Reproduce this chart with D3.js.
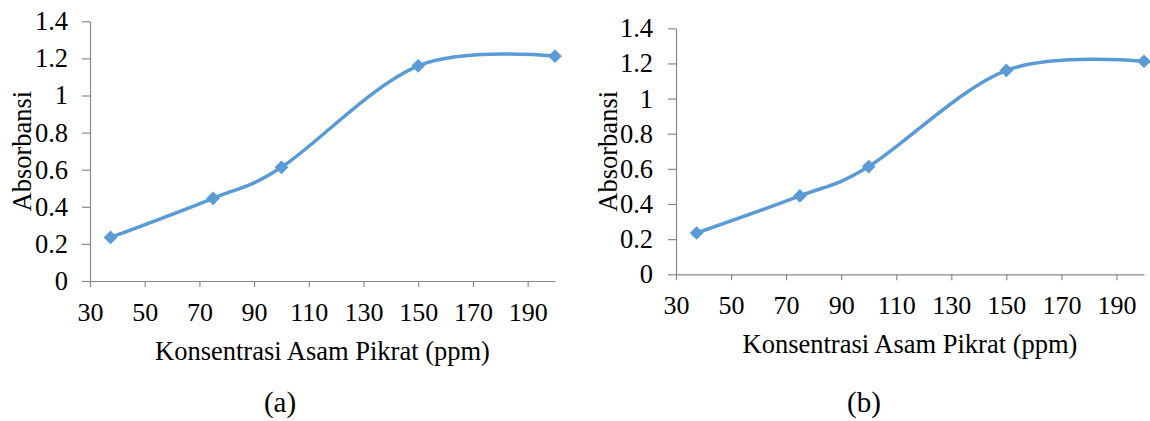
<!DOCTYPE html>
<html>
<head>
<meta charset="utf-8">
<script src="https://cdn.jsdelivr.net/npm/d3@7"></script>
<style>
  body { margin: 0; background: #fff; font-family: 'Liberation Serif', serif; }
  #grafico text { font-family: 'Liberation Serif', serif; fill: #000; }
</style>
</head>
<body>
<div id="grafico"></div>
<script>
// Datos
var konsentrasi = [37.5, 75, 100, 150, 200];
var absorbansiA = [0.235, 0.446, 0.613, 1.16, 1.212];
var absorbansiB = [0.235, 0.446, 0.613, 1.16, 1.212];
var ticksX = [30, 50, 70, 90, 110, 130, 150, 170, 190];
var ticksY = [0, 0.2, 0.4, 0.6, 0.8, 1, 1.2, 1.4];
var etiquetas = ["(a)", "(b)"];

var svg = d3.select("#grafico").append("svg")
    .attr("width", 1150)
    .attr("height", 421)
    .attr("font-family", "Liberation Serif, serif");

/**
 * Dibuja un panel con su curva suavizada
 */
function dibujarPanel(valores, etiqueta, caja) {
    var x = d3.scaleLinear().domain([30, 200]).range([caja.left, caja.right]);
    var y = d3.scaleLinear().domain([0, 1.4]).range([caja.bottom, caja.top]);

    var g = svg.append("g");

    // Eje X
    var ejeX = g.append("g")
        .attr("transform", "translate(0," + caja.bottom + ")")
        .call(d3.axisBottom(x).tickValues(ticksX).tickSize(6).tickSizeOuter(0).tickPadding(caja.padX));
    ejeX.attr("font-family", null).attr("font-size", null);
    ejeX.selectAll("text").attr("font-size", 26);

    // Eje Y
    var ejeY = g.append("g")
        .attr("transform", "translate(" + caja.left + ",0)")
        .call(d3.axisLeft(y).tickValues(ticksY).tickFormat(function (d) { return String(d); })
            .tickSize(8).tickSizeOuter(0).tickPadding(caja.padY));
    ejeY.attr("font-family", null).attr("font-size", null);
    ejeY.selectAll("text").attr("font-size", 26.5);

    g.selectAll(".domain, .tick line").attr("stroke", "#898989").attr("stroke-width", 1.2);

    // Titulos de ejes
    g.append("text")
        .attr("x", (caja.left + caja.right) / 2)
        .attr("y", caja.bottom + 79)
        .attr("text-anchor", "middle")
        .attr("font-size", 26.5)
        .text("Konsentrasi Asam Pikrat (ppm)");

    g.append("text")
        .attr("transform", "translate(" + (caja.left - 59) + "," + ((caja.top + caja.bottom) / 2) + ") rotate(-90)")
        .attr("text-anchor", "middle")
        .attr("font-size", 26.5)
        .text("Absorbansi");

    // Etiqueta del panel
    g.append("text")
        .attr("x", caja.labelX)
        .attr("y", 412)
        .attr("text-anchor", "middle")
        .attr("font-size", 29)
        .text(etiqueta);

    var puntos = konsentrasi.map(function (k, i) { return [k, valores[i]]; });

    var linea = d3.line()
        .x(function (d) { return x(d[0]); })
        .y(function (d) { return y(d[1]); })
        .curve(d3.curveCardinal.tension(0));

    g.append("path")
        .datum(puntos)
        .attr("d", linea)
        .attr("fill", "none")
        .attr("stroke", "#5b9bd5")
        .attr("stroke-width", 3.5);

    g.selectAll(".marca")
        .data(puntos)
        .enter().append("path")
        .attr("class", "marca")
        .attr("d", d3.symbol().type(d3.symbolDiamond2).size(120))
        .attr("transform", function (d) { return "translate(" + x(d[0]) + "," + y(d[1]) + ")"; })
        .attr("fill", "#5b9bd5");
}

dibujarPanel(absorbansiA, etiquetas[0], { left: 90, right: 555, top: 21.3, bottom: 281, padX: 16, padY: 14, labelX: 280 });
dibujarPanel(absorbansiB, etiquetas[1], { left: 676, right: 1144, top: 28.3, bottom: 274.3, padX: 15, padY: 15, labelX: 864 });
</script>
</body>
</html>
